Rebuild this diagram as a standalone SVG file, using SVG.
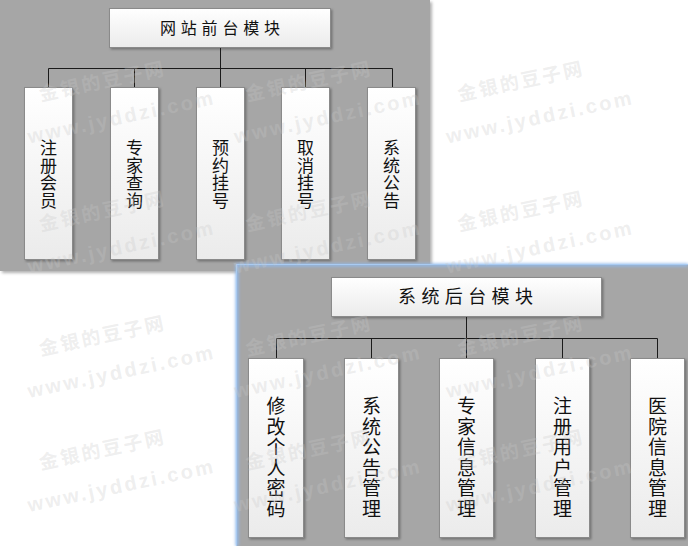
<svg xmlns="http://www.w3.org/2000/svg" width="688" height="546" viewBox="0 0 688 546">
<defs>
<linearGradient id="gBox" x1="0" y1="0" x2="0" y2="1"><stop offset="0" stop-color="#ffffff"/><stop offset="1" stop-color="#ebebeb"/></linearGradient>
<filter id="shPanel" x="-5%" y="-5%" width="115%" height="115%"><feDropShadow dx="2" dy="2" stdDeviation="1.5" flood-color="#000" flood-opacity="0.3"/></filter>
<filter id="shBox" x="-20%" y="-20%" width="150%" height="150%"><feDropShadow dx="1.5" dy="1.5" stdDeviation="0.8" flood-color="#000" flood-opacity="0.3"/></filter>
<filter id="glow" x="-10%" y="-10%" width="120%" height="120%"><feGaussianBlur stdDeviation="1.5"/></filter>
<g id="wmk">
<text class="wmc" x="0" y="7">金银的豆子网</text>
<text class="wme" x="11" y="46">www.jyddzi.com</text>
</g>
</defs>
<style>
.panel{fill:#a6a6a6}
.box{fill:url(#gBox);stroke:#8a8a8a;stroke-width:1;filter:url(#shBox)}
.lbl{font-family:"Noto Sans CJK SC",sans-serif;fill:#111}
.v1{font-size:17px;text-anchor:middle}
.v2{font-size:19px;text-anchor:middle}
.conn path{stroke:#1a1a1a;stroke-width:1;fill:none}
.wmc,.wme{fill:#c8c8c8;fill-opacity:0.3;font-weight:bold;text-anchor:middle}
.wmc{font-family:"Noto Sans CJK SC",sans-serif;font-size:19px;letter-spacing:2.5px}
.wme{font-family:"Liberation Sans",sans-serif;font-size:20px;letter-spacing:2.6px}
</style>
<rect width="688" height="546" fill="#ffffff"/>
<!-- top panel -->
<rect class="panel" x="0" y="0" width="430" height="271" filter="url(#shPanel)"/>
<g id="front">
<g id="front-title"><rect class="box" x="109.5" y="8.5" width="221" height="39"/><text class="lbl" x="160" y="34" font-size="16" letter-spacing="4.8">网站前台模块</text></g>
<g id="f1"><rect class="box" x="24.5" y="87.5" width="48" height="172"/><text class="lbl v1" x="48.5" y="154">注<tspan x="48.5" dy="17.5">册</tspan><tspan x="48.5" dy="17.5">会</tspan><tspan x="48.5" dy="17.5">员</tspan></text></g>
<g id="f2"><rect class="box" x="110.5" y="87.5" width="48" height="172"/><text class="lbl v1" x="134.5" y="154">专<tspan x="134.5" dy="17.5">家</tspan><tspan x="134.5" dy="17.5">查</tspan><tspan x="134.5" dy="17.5">询</tspan></text></g>
<g id="f3"><rect class="box" x="196.5" y="87.5" width="48" height="172"/><text class="lbl v1" x="220.5" y="154">预<tspan x="220.5" dy="17.5">约</tspan><tspan x="220.5" dy="17.5">挂</tspan><tspan x="220.5" dy="17.5">号</tspan></text></g>
<g id="f4"><rect class="box" x="281.5" y="87.5" width="48" height="172"/><text class="lbl v1" x="305.5" y="154">取<tspan x="305.5" dy="17.5">消</tspan><tspan x="305.5" dy="17.5">挂</tspan><tspan x="305.5" dy="17.5">号</tspan></text></g>
<g id="f5"><rect class="box" x="367.5" y="87.5" width="48" height="172"/><text class="lbl v1" x="391.5" y="154">系<tspan x="391.5" dy="17.5">统</tspan><tspan x="391.5" dy="17.5">公</tspan><tspan x="391.5" dy="17.5">告</tspan></text></g>
</g>
<g class="conn" id="front-conn"><path d="M220.5,48 V68.5 M48.5,68.5 H392.5 M48.5,68.5 V87 M134.5,68.5 V87 M220.5,68.5 V87 M305.5,68.5 V87 M392.5,68.5 V87"/></g>
<!-- bottom panel -->
<rect class="panel" x="237" y="264" width="451" height="282"/>
<path d="M237,546 V265 H688" stroke="#8fb8ec" stroke-width="3" fill="none" filter="url(#glow)"/>
<path d="M236.5,546 V264.5 H688" stroke="#a9cbf2" stroke-width="1.2" fill="none"/>
<g id="back">
<g id="back-title"><rect class="box" x="331.5" y="277.5" width="270" height="39"/><text class="lbl" x="398" y="303" font-size="18" letter-spacing="5.4">系统后台模块</text></g>
<g id="b1"><rect class="box" x="248.5" y="358.5" width="55" height="179"/><text class="lbl v2" x="276" y="413">修<tspan x="276" dy="20.5">改</tspan><tspan x="276" dy="20.5">个</tspan><tspan x="276" dy="20.5">人</tspan><tspan x="276" dy="20.5">密</tspan><tspan x="276" dy="20.5">码</tspan></text></g>
<g id="b2"><rect class="box" x="344.5" y="358.5" width="54" height="179"/><text class="lbl v2" x="371.5" y="413">系<tspan x="371.5" dy="20.5">统</tspan><tspan x="371.5" dy="20.5">公</tspan><tspan x="371.5" dy="20.5">告</tspan><tspan x="371.5" dy="20.5">管</tspan><tspan x="371.5" dy="20.5">理</tspan></text></g>
<g id="b3"><rect class="box" x="439.5" y="358.5" width="54" height="179"/><text class="lbl v2" x="466.5" y="413">专<tspan x="466.5" dy="20.5">家</tspan><tspan x="466.5" dy="20.5">信</tspan><tspan x="466.5" dy="20.5">息</tspan><tspan x="466.5" dy="20.5">管</tspan><tspan x="466.5" dy="20.5">理</tspan></text></g>
<g id="b4"><rect class="box" x="535.5" y="358.5" width="54" height="179"/><text class="lbl v2" x="562.5" y="413">注<tspan x="562.5" dy="20.5">册</tspan><tspan x="562.5" dy="20.5">用</tspan><tspan x="562.5" dy="20.5">户</tspan><tspan x="562.5" dy="20.5">管</tspan><tspan x="562.5" dy="20.5">理</tspan></text></g>
<g id="b5"><rect class="box" x="630.5" y="358.5" width="54" height="179"/><text class="lbl v2" x="657.5" y="413">医<tspan x="657.5" dy="20.5">院</tspan><tspan x="657.5" dy="20.5">信</tspan><tspan x="657.5" dy="20.5">息</tspan><tspan x="657.5" dy="20.5">管</tspan><tspan x="657.5" dy="20.5">理</tspan></text></g>
</g>
<g class="conn" id="back-conn"><path d="M466.5,317 V338.5 M276.5,338.5 H657.5 M276.5,338.5 V358 M371.5,338.5 V358 M466.5,338.5 V358 M562.5,338.5 V358 M657.5,338.5 V358"/></g>
<!-- watermarks -->
<g id="watermarks">
<use href="#wmk" transform="translate(102.5,81) rotate(-12)"/>
<use href="#wmk" transform="translate(309,81) rotate(-12)"/>
<use href="#wmk" transform="translate(521,81) rotate(-12)"/>
<use href="#wmk" transform="translate(102.5,211) rotate(-12)"/>
<use href="#wmk" transform="translate(309,211) rotate(-12)"/>
<use href="#wmk" transform="translate(521,211) rotate(-12)"/>
<use href="#wmk" transform="translate(102.5,335.5) rotate(-12)"/>
<use href="#wmk" transform="translate(309,335.5) rotate(-12)"/>
<use href="#wmk" transform="translate(521,335.5) rotate(-12)"/>
<use href="#wmk" transform="translate(102.5,449.5) rotate(-12)"/>
<use href="#wmk" transform="translate(309,449.5) rotate(-12)"/>
<use href="#wmk" transform="translate(521,449.5) rotate(-12)"/>
</g>
</svg>
